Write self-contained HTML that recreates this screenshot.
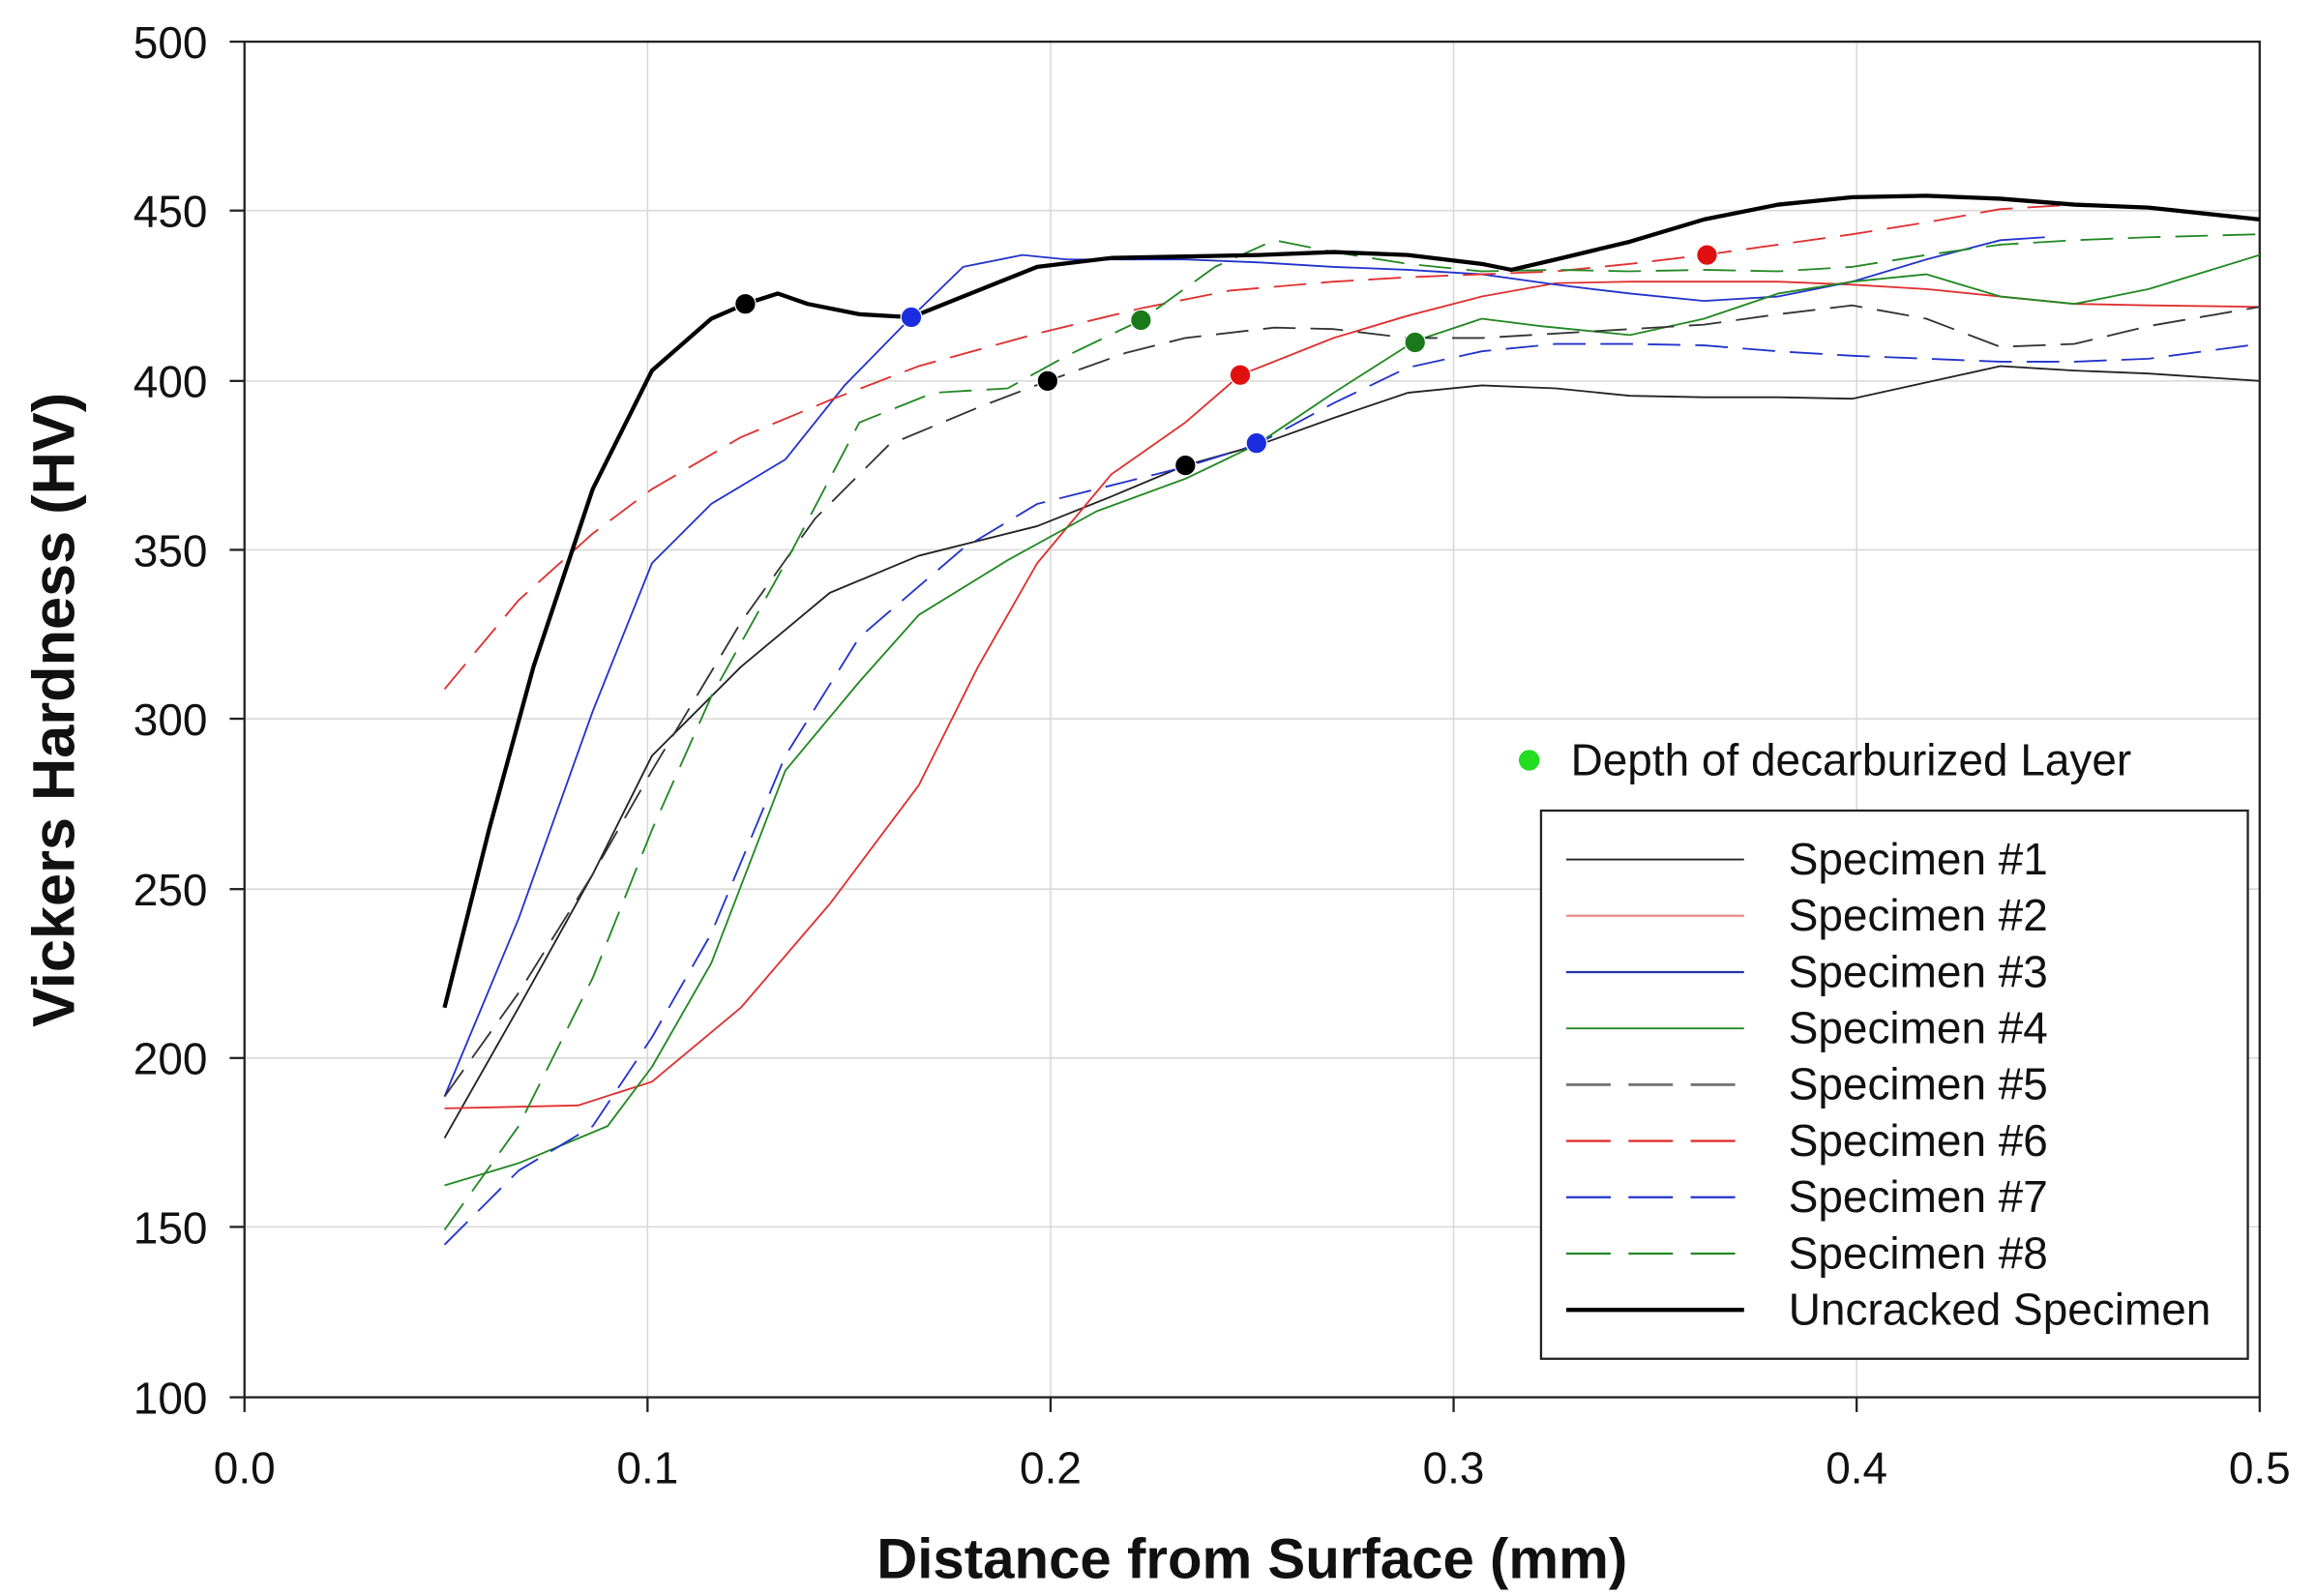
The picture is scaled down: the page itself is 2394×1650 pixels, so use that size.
<!DOCTYPE html>
<html><head><meta charset="utf-8"><style>
html,body{margin:0;padding:0;background:#fff;}
svg{display:block;}
text{font-family:"Liberation Sans",Arial,sans-serif;fill:#111;}
</style></head><body>
<svg width="2394" height="1650" viewBox="0 0 1563 1077" xmlns="http://www.w3.org/2000/svg">
<rect width="1563" height="1077" fill="#fff"/>
<g stroke="#d8d8d8" stroke-width="1">
<line x1="437" y1="28" x2="437" y2="943"/><line x1="709" y1="28" x2="709" y2="943"/>
<line x1="981" y1="28" x2="981" y2="943"/><line x1="1253" y1="28" x2="1253" y2="943"/>
<line x1="165" y1="142" x2="1525" y2="142"/><line x1="165" y1="257" x2="1525" y2="257"/>
<line x1="165" y1="371" x2="1525" y2="371"/><line x1="165" y1="485" x2="1525" y2="485"/>
<line x1="165" y1="600" x2="1525" y2="600"/><line x1="165" y1="714" x2="1525" y2="714"/>
<line x1="165" y1="828" x2="1525" y2="828"/>
</g>
<g stroke="#222" stroke-width="1.5" fill="none">
<rect x="165" y="28" width="1360" height="915"/>
<line x1="155" y1="28" x2="165" y2="28"/><line x1="155" y1="142" x2="165" y2="142"/>
<line x1="155" y1="257" x2="165" y2="257"/><line x1="155" y1="371" x2="165" y2="371"/>
<line x1="155" y1="485" x2="165" y2="485"/><line x1="155" y1="600" x2="165" y2="600"/>
<line x1="155" y1="714" x2="165" y2="714"/><line x1="155" y1="828" x2="165" y2="828"/>
<line x1="155" y1="943" x2="165" y2="943"/>
<line x1="165" y1="943" x2="165" y2="953"/><line x1="437" y1="943" x2="437" y2="953"/>
<line x1="709" y1="943" x2="709" y2="953"/><line x1="981" y1="943" x2="981" y2="953"/>
<line x1="1253" y1="943" x2="1253" y2="953"/><line x1="1525" y1="943" x2="1525" y2="953"/>
</g>
<g font-size="30" text-anchor="end">
<text x="140" y="39">500</text><text x="140" y="153">450</text><text x="140" y="268">400</text>
<text x="140" y="382">350</text><text x="140" y="496">300</text><text x="140" y="611">250</text>
<text x="140" y="725">200</text><text x="140" y="839">150</text><text x="140" y="954">100</text>
</g>
<g font-size="30" text-anchor="middle">
<text x="165" y="1001">0.0</text><text x="437" y="1001">0.1</text><text x="709" y="1001">0.2</text>
<text x="981" y="1001">0.3</text><text x="1253" y="1001">0.4</text><text x="1525" y="1001">0.5</text>
</g>
<text x="845" y="1065" font-size="38" font-weight="bold" text-anchor="middle">Distance from Surface (mm)</text>
<text transform="translate(50,479) rotate(-90)" font-size="40" font-weight="bold" text-anchor="middle">Vickers Hardness (HV)</text>

<g fill="none" stroke-linejoin="round" stroke-linecap="butt">
<polyline stroke="#222" stroke-width="1.2" points="300,768 350,680 400,590 440,510 500,450 560,400 620,375 700,355 750,335 800,314 850,300 900,282 950,265 1000,260 1050,262 1100,267 1150,268 1200,268 1250,269 1300,258 1350,247 1400,250 1450,252 1525,257"/>
<polyline stroke="#e03030" stroke-width="1.2" points="300,748 390,746 440,730 500,680 560,610 620,530 660,450 700,380 750,320 800,285 837,253 900,228 950,213 1000,200 1050,191 1100,190 1150,190 1200,190 1250,192 1300,195 1350,200 1400,205 1450,206 1525,207"/>
<polyline stroke="#2233cc" stroke-width="1.2" points="300,740 350,620 400,480 440,380 480,340 530,310 570,260 615,214 650,180 690,172 720,175 800,175 850,177 900,180 950,182 1000,185 1050,192 1100,198 1150,203 1200,200 1250,190 1300,175 1350,162 1380,160"/>
<polyline stroke="#228822" stroke-width="1.2" points="300,800 350,785 410,760 440,720 480,650 530,520 580,460 620,415 680,378 740,345 800,323 848,300 900,265 955,230 1000,215 1040,220 1100,226 1150,215 1200,198 1250,190 1300,185 1350,200 1400,205 1450,195 1525,172"/>
<polyline stroke="#333" stroke-width="1.2" stroke-dasharray="22,10" points="300,740 350,670 400,590 440,520 500,420 550,350 600,300 660,275 707,257 760,238 800,228 860,221 900,222 950,228 1000,228 1050,225 1100,222 1150,219 1200,212 1250,206 1300,215 1350,234 1400,232 1450,220 1525,207"/>
<polyline stroke="#e03030" stroke-width="1.2" stroke-dasharray="22,10" points="300,465 350,405 400,360 440,330 500,295 560,270 620,247 700,225 770,208 830,196 900,190 950,187 1000,185 1050,183 1100,178 1150,172 1200,165 1250,158 1300,150 1350,141 1400,138 1450,140 1525,148"/>
<polyline stroke="#2233cc" stroke-width="1.2" stroke-dasharray="22,10" points="300,840 350,790 400,760 440,700 480,630 530,510 580,430 650,370 700,340 760,325 800,315 848,300 900,272 950,248 1000,237 1050,232 1100,232 1150,233 1200,237 1250,240 1300,242 1350,244 1400,244 1450,242 1525,232"/>
<polyline stroke="#228822" stroke-width="1.2" stroke-dasharray="22,10" points="300,830 350,760 400,660 440,560 480,470 530,380 580,285 630,265 680,262 720,240 770,216 820,180 860,162 900,170 950,178 1000,183 1050,182 1100,183 1150,182 1200,183 1250,180 1300,172 1350,165 1400,162 1450,160 1525,158"/>
<polyline stroke="#000" stroke-width="2.8" points="300,680 330,560 360,450 400,330 440,250 480,215 503,205 525,198 545,205 580,212 615,214 650,200 700,180 750,174 800,173 850,172 900,170 950,172 1000,178 1020,182 1050,175 1100,163 1150,148 1200,138 1250,133 1300,132 1350,134 1400,138 1450,140 1525,148"/>
</g>
<g stroke="#fff" stroke-width="0.8">
<circle cx="503" cy="205" r="7" fill="#000"/><circle cx="707" cy="257" r="7" fill="#000"/><circle cx="800" cy="314" r="7" fill="#000"/>
<circle cx="615" cy="214" r="7" fill="#1a2ee0"/><circle cx="848" cy="299" r="7" fill="#1a2ee0"/>
<circle cx="770" cy="216" r="7" fill="#1a7a1a"/><circle cx="955" cy="231" r="7" fill="#1a7a1a"/>
<circle cx="837" cy="253" r="7" fill="#e01010"/><circle cx="1152" cy="172" r="7" fill="#e01010"/>
</g>
<circle cx="1032" cy="513" r="7" fill="#22dd22"/>
<text x="1060" y="523" font-size="30">Depth of decarburized Layer</text>
<rect x="1040" y="547" width="477" height="370" fill="#fff" stroke="#222" stroke-width="1.5"/>
<g fill="none">
<line x1="1057" y1="580" x2="1177" y2="580" stroke="#222" stroke-width="1.2"/>
<line x1="1057" y1="618" x2="1177" y2="618" stroke="#e88" stroke-width="1.5"/>
<line x1="1057" y1="656" x2="1177" y2="656" stroke="#2233aa" stroke-width="1.5"/>
<line x1="1057" y1="694" x2="1177" y2="694" stroke="#228822" stroke-width="1.2"/>
<line x1="1057" y1="732" x2="1177" y2="732" stroke="#777" stroke-width="2" stroke-dasharray="30,12"/>
<line x1="1057" y1="770" x2="1177" y2="770" stroke="#e03030" stroke-width="1.5" stroke-dasharray="30,12"/>
<line x1="1057" y1="808" x2="1177" y2="808" stroke="#2233cc" stroke-width="1.5" stroke-dasharray="30,12"/>
<line x1="1057" y1="846" x2="1177" y2="846" stroke="#228822" stroke-width="1.5" stroke-dasharray="30,12"/>
<line x1="1057" y1="884" x2="1177" y2="884" stroke="#000" stroke-width="2.8"/>
</g>
<g font-size="30">
<text x="1207" y="590">Specimen #1</text><text x="1207" y="628">Specimen #2</text>
<text x="1207" y="666">Specimen #3</text><text x="1207" y="704">Specimen #4</text>
<text x="1207" y="742">Specimen #5</text><text x="1207" y="780">Specimen #6</text>
<text x="1207" y="818">Specimen #7</text><text x="1207" y="856">Specimen #8</text>
<text x="1207" y="894">Uncracked Specimen</text>
</g>
</svg>
</body></html>
